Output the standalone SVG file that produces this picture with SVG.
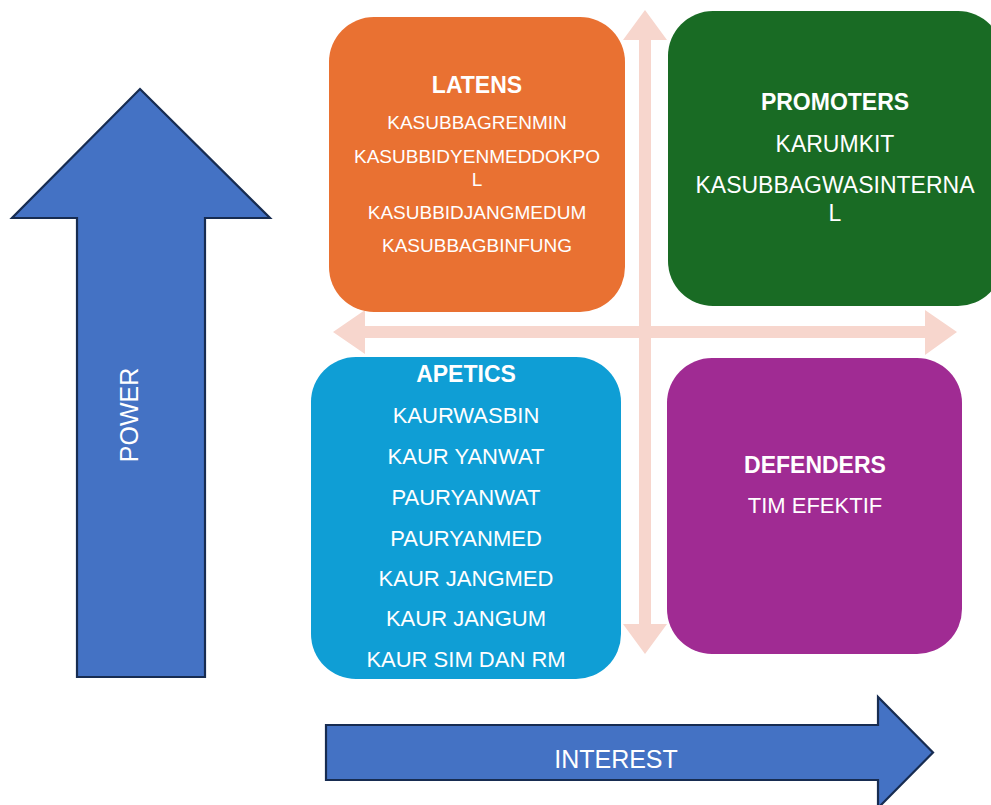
<svg xmlns="http://www.w3.org/2000/svg" width="991" height="805" viewBox="0 0 991 805">
<style>
.ax{fill:#4472C4;stroke:#172C51;stroke-width:2.2;stroke-linejoin:miter}
.pk{fill:#F7D6CD}
.t{font-family:"Liberation Sans",Arial,sans-serif;fill:#FFFFFF;text-anchor:middle}
.h{font-weight:bold;font-size:23px}
.s{font-size:19px}
.m{font-size:22px}
.l{font-size:23px}
.ax-t{font-size:25px}
</style>
<rect width="991" height="805" fill="#FFFFFF"/>
<g id="connectors">
  <polygon class="pk" points="645,10 667,40 651,40 651,624 667,624 645,654 623,624 639,624 639,40 623,40"/>
  <polygon class="pk" points="333,332 365,310 365,326 925,326 925,310 957,332 925,355 925,338 365,338 365,354"/>
</g>
<g id="power">
  <polygon class="ax" points="140,89 270,218 205,218 205,677 77,677 77,218 12,218"/>
  <text class="t ax-t" transform="translate(138,415) rotate(-90)">POWER</text>
</g>
<g id="interest">
  <polygon class="ax" points="326,725 878,725 878,697 933,752.5 878,808 878,780 326,780"/>
  <text class="t ax-t" x="616" y="768">INTEREST</text>
</g>
<g id="latens">
  <rect x="329" y="17" width="296" height="295" rx="45" ry="45" fill="#E97132"/>
  <text class="t h" x="477" y="93" font-size="22">LATENS</text>
  <text class="t s" x="477" y="129">KASUBBAGRENMIN</text>
  <text class="t s" x="477" y="163">KASUBBIDYENMEDDOKPO</text>
  <text class="t s" x="477" y="186">L</text>
  <text class="t s" x="477" y="219">KASUBBIDJANGMEDUM</text>
  <text class="t s" x="477" y="252">KASUBBAGBINFUNG</text>
</g>
<g id="promoters">
  <rect x="668" y="11" width="335" height="295" rx="45" ry="45" fill="#196B24"/>
  <text class="t h" x="835" y="110">PROMOTERS</text>
  <text class="t l" x="835" y="152">KARUMKIT</text>
  <text class="t l" x="835" y="193">KASUBBAGWASINTERNA</text>
  <text class="t l" x="835" y="221">L</text>
</g>
<g id="apetics">
  <rect x="311" y="357" width="310" height="322" rx="45" ry="45" fill="#0F9ED5"/>
  <text class="t h" x="466" y="382">APETICS</text>
  <text class="t m" x="466" y="423">KAURWASBIN</text>
  <text class="t m" x="466" y="464">KAUR YANWAT</text>
  <text class="t m" x="466" y="505">PAURYANWAT</text>
  <text class="t m" x="466" y="546">PAURYANMED</text>
  <text class="t m" x="466" y="586">KAUR JANGMED</text>
  <text class="t m" x="466" y="626">KAUR JANGUM</text>
  <text class="t m" x="466" y="667">KAUR SIM DAN RM</text>
</g>
<g id="defenders">
  <rect x="667" y="358" width="295" height="296" rx="45" ry="45" fill="#A02B93"/>
  <text class="t h" x="815" y="473">DEFENDERS</text>
  <text class="t m" x="815" y="513">TIM EFEKTIF</text>
</g>
</svg>
